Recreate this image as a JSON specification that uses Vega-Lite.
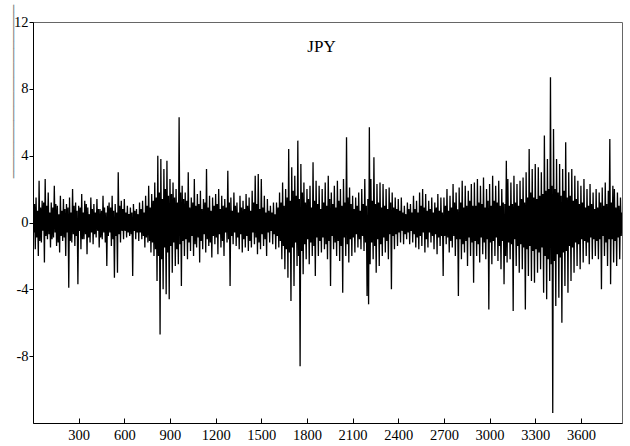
{
  "$schema": "https://vega.github.io/schema/vega-lite/v6.json",
  "width": 589,
  "height": 401,
  "autosize": {"type": "none"},
  "padding": {"left": 33, "top": 22, "right": 8, "bottom": 23},
  "background": "white",
  "config": {
    "view": {"stroke": "#666", "strokeWidth": 1},
    "font": "Liberation Serif",
    "axis": {"labelFont": "Liberation Serif", "titleFont": "Liberation Serif"}
  },
  "title": {"text": "JPY", "orient": "top", "offset": -52, "dx": -6, "fontSize": 17, "font": "Liberation Serif", "fontWeight": "normal", "color": "#000"},
  "data": {"values": [
{"t":0,"v":0.8},{"t":5,"v":-0.6},{"t":10,"v":1.1},{"t":15,"v":-1.6},{"t":20,"v":1.5},{"t":25,"v":-0.9},{"t":30,"v":0.7},{"t":35,"v":-2.0},{"t":40,"v":2.5},{"t":45,"v":-1.1},{"t":50,"v":0.9},{"t":55,"v":-1.2},{"t":60,"v":1.3},{"t":65,"v":-0.5},{"t":70,"v":1.2},{"t":75,"v":-2.4},{"t":80,"v":2.6},{"t":85,"v":-0.8},{"t":90,"v":1.0},{"t":95,"v":-1.0},
{"t":100,"v":1.8},{"t":105,"v":-0.7},{"t":110,"v":0.6},{"t":115,"v":-1.5},{"t":120,"v":1.2},{"t":125,"v":-1.0},{"t":130,"v":0.9},{"t":135,"v":-0.9},{"t":140,"v":2.2},{"t":145,"v":-0.6},{"t":150,"v":1.1},{"t":155,"v":-1.4},{"t":160,"v":1.0},{"t":165,"v":-1.2},{"t":170,"v":0.5},{"t":175,"v":-1.8},{"t":180,"v":1.6},{"t":185,"v":-0.8},{"t":190,"v":0.7},{"t":195,"v":-1.1},
{"t":200,"v":1.4},{"t":205,"v":-0.9},{"t":210,"v":0.8},{"t":215,"v":-2.0},{"t":220,"v":1.1},{"t":225,"v":-0.6},{"t":230,"v":0.9},{"t":235,"v":-3.9},{"t":240,"v":1.5},{"t":245,"v":-1.1},{"t":250,"v":0.6},{"t":255,"v":-1.2},{"t":260,"v":2.0},{"t":265,"v":-0.7},{"t":270,"v":1.0},{"t":275,"v":-1.4},{"t":280,"v":1.2},{"t":285,"v":-0.8},{"t":290,"v":0.7},{"t":295,"v":-3.7},
{"t":300,"v":1.0},{"t":305,"v":-0.5},{"t":310,"v":0.9},{"t":315,"v":-1.6},{"t":320,"v":1.7},{"t":325,"v":-1.0},{"t":330,"v":0.6},{"t":335,"v":-1.0},{"t":340,"v":1.3},{"t":345,"v":-0.7},{"t":350,"v":1.1},{"t":355,"v":-1.9},{"t":360,"v":0.9},{"t":365,"v":-0.9},{"t":370,"v":0.5},{"t":375,"v":-1.2},{"t":380,"v":1.5},{"t":385,"v":-0.6},{"t":390,"v":0.8},{"t":395,"v":-1.3},
{"t":400,"v":1.1},{"t":405,"v":-0.7},{"t":410,"v":0.6},{"t":415,"v":-0.9},{"t":420,"v":1.4},{"t":425,"v":-0.5},{"t":430,"v":0.8},{"t":435,"v":-1.5},{"t":440,"v":0.8},{"t":445,"v":-0.9},{"t":450,"v":0.7},{"t":455,"v":-1.0},{"t":460,"v":1.6},{"t":465,"v":-0.6},{"t":470,"v":0.9},{"t":475,"v":-1.2},{"t":480,"v":0.6},{"t":485,"v":-2.6},{"t":490,"v":1.0},{"t":495,"v":-0.8},
{"t":500,"v":1.2},{"t":505,"v":-0.6},{"t":510,"v":0.9},{"t":515,"v":-1.4},{"t":520,"v":1.6},{"t":525,"v":-1.0},{"t":530,"v":0.7},{"t":535,"v":-3.3},{"t":540,"v":1.1},{"t":545,"v":-0.8},{"t":550,"v":0.6},{"t":555,"v":-3.0},{"t":560,"v":3.0},{"t":565,"v":-0.7},{"t":570,"v":1.0},{"t":575,"v":-1.2},{"t":580,"v":1.3},{"t":585,"v":-0.5},{"t":590,"v":0.8},{"t":595,"v":-1.0},
{"t":600,"v":1.4},{"t":605,"v":-0.5},{"t":610,"v":0.6},{"t":615,"v":-0.9},{"t":620,"v":1.0},{"t":625,"v":-0.6},{"t":630,"v":0.5},{"t":635,"v":-0.8},{"t":640,"v":0.9},{"t":645,"v":-0.7},{"t":650,"v":0.6},{"t":655,"v":-3.2},{"t":660,"v":1.1},{"t":665,"v":-0.5},{"t":670,"v":0.7},{"t":675,"v":-1.0},{"t":680,"v":0.8},{"t":685,"v":-0.6},{"t":690,"v":0.5},{"t":695,"v":-1.1},
{"t":700,"v":1.2},{"t":705,"v":-0.6},{"t":710,"v":0.8},{"t":715,"v":-1.0},{"t":720,"v":1.3},{"t":725,"v":-0.8},{"t":730,"v":0.6},{"t":735,"v":-1.5},{"t":740,"v":1.6},{"t":745,"v":-0.9},{"t":750,"v":1.0},{"t":755,"v":-1.2},{"t":760,"v":2.2},{"t":765,"v":-1.1},{"t":770,"v":0.9},{"t":775,"v":-1.8},{"t":780,"v":1.7},{"t":785,"v":-1.2},{"t":790,"v":1.3},{"t":795,"v":-2.0},
{"t":800,"v":2.4},{"t":805,"v":-1.6},{"t":810,"v":1.5},{"t":815,"v":-3.5},{"t":820,"v":4.0},{"t":825,"v":-2.0},{"t":830,"v":1.8},{"t":835,"v":-6.7},{"t":840,"v":3.8},{"t":845,"v":-2.2},{"t":850,"v":1.4},{"t":855,"v":-4.0},{"t":860,"v":3.2},{"t":865,"v":-1.5},{"t":870,"v":2.0},{"t":875,"v":-4.3},{"t":880,"v":3.7},{"t":885,"v":-1.8},{"t":890,"v":1.6},{"t":895,"v":-4.6},
{"t":900,"v":2.6},{"t":905,"v":-1.4},{"t":910,"v":1.7},{"t":915,"v":-3.0},{"t":920,"v":2.4},{"t":925,"v":-1.2},{"t":930,"v":1.5},{"t":935,"v":-2.6},{"t":940,"v":2.0},{"t":945,"v":-1.6},{"t":950,"v":1.2},{"t":955,"v":-2.5},{"t":960,"v":6.3},{"t":965,"v":-1.3},{"t":970,"v":1.8},{"t":975,"v":-3.8},{"t":980,"v":2.2},{"t":985,"v":-1.1},{"t":990,"v":1.4},{"t":995,"v":-2.0},
{"t":1000,"v":1.8},{"t":1005,"v":-1.0},{"t":1010,"v":1.3},{"t":1015,"v":-2.2},{"t":1020,"v":3.0},{"t":1025,"v":-1.2},{"t":1030,"v":0.9},{"t":1035,"v":-1.7},{"t":1040,"v":1.5},{"t":1045,"v":-0.8},{"t":1050,"v":1.2},{"t":1055,"v":-2.0},{"t":1060,"v":2.6},{"t":1065,"v":-1.3},{"t":1070,"v":1.0},{"t":1075,"v":-1.5},{"t":1080,"v":1.7},{"t":1085,"v":-0.9},{"t":1090,"v":1.1},{"t":1095,"v":-2.4},
{"t":1100,"v":1.9},{"t":1105,"v":-1.1},{"t":1110,"v":0.8},{"t":1115,"v":-1.6},{"t":1120,"v":1.4},{"t":1125,"v":-0.7},{"t":1130,"v":1.2},{"t":1135,"v":-1.8},{"t":1140,"v":3.2},{"t":1145,"v":-1.0},{"t":1150,"v":0.9},{"t":1155,"v":-1.4},{"t":1160,"v":1.6},{"t":1165,"v":-1.2},{"t":1170,"v":0.7},{"t":1175,"v":-2.1},{"t":1180,"v":1.5},{"t":1185,"v":-0.8},{"t":1190,"v":1.0},{"t":1195,"v":-1.3},
{"t":1200,"v":1.7},{"t":1205,"v":-0.9},{"t":1210,"v":1.1},{"t":1215,"v":-1.9},{"t":1220,"v":2.0},{"t":1225,"v":-0.7},{"t":1230,"v":0.8},{"t":1235,"v":-1.5},{"t":1240,"v":1.6},{"t":1245,"v":-1.1},{"t":1250,"v":1.0},{"t":1255,"v":-2.0},{"t":1260,"v":1.4},{"t":1265,"v":-0.6},{"t":1270,"v":0.9},{"t":1275,"v":-1.2},{"t":1280,"v":3.1},{"t":1285,"v":-1.0},{"t":1290,"v":1.2},{"t":1295,"v":-3.8},
{"t":1300,"v":1.5},{"t":1305,"v":-0.8},{"t":1310,"v":0.7},{"t":1315,"v":-1.3},{"t":1320,"v":1.8},{"t":1325,"v":-0.6},{"t":1330,"v":1.0},{"t":1335,"v":-1.4},{"t":1340,"v":1.2},{"t":1345,"v":-0.9},{"t":1350,"v":0.6},{"t":1355,"v":-1.6},{"t":1360,"v":1.6},{"t":1365,"v":-0.7},{"t":1370,"v":0.9},{"t":1375,"v":-1.8},{"t":1380,"v":1.3},{"t":1385,"v":-1.0},{"t":1390,"v":0.8},{"t":1395,"v":-1.5},
{"t":1400,"v":1.7},{"t":1405,"v":-0.8},{"t":1410,"v":1.0},{"t":1415,"v":-1.7},{"t":1420,"v":1.5},{"t":1425,"v":-1.1},{"t":1430,"v":0.7},{"t":1435,"v":-1.5},{"t":1440,"v":1.9},{"t":1445,"v":-0.6},{"t":1450,"v":1.2},{"t":1455,"v":-1.3},{"t":1460,"v":2.8},{"t":1465,"v":-0.9},{"t":1470,"v":1.1},{"t":1475,"v":-1.9},{"t":1480,"v":2.9},{"t":1485,"v":-1.2},{"t":1490,"v":0.8},{"t":1495,"v":-1.6},
{"t":1500,"v":2.6},{"t":1505,"v":-0.7},{"t":1510,"v":0.9},{"t":1515,"v":-1.4},{"t":1520,"v":1.6},{"t":1525,"v":-1.0},{"t":1530,"v":0.6},{"t":1535,"v":-2.0},{"t":1540,"v":1.4},{"t":1545,"v":-0.6},{"t":1550,"v":0.7},{"t":1555,"v":-1.2},{"t":1560,"v":1.0},{"t":1565,"v":-0.5},{"t":1570,"v":0.6},{"t":1575,"v":-1.3},{"t":1580,"v":1.2},{"t":1585,"v":-0.7},{"t":1590,"v":0.5},{"t":1595,"v":-1.6},
{"t":1600,"v":1.2},{"t":1605,"v":-0.8},{"t":1610,"v":0.9},{"t":1615,"v":-1.5},{"t":1620,"v":1.8},{"t":1625,"v":-1.1},{"t":1630,"v":1.2},{"t":1635,"v":-2.2},{"t":1640,"v":2.4},{"t":1645,"v":-1.4},{"t":1650,"v":1.0},{"t":1655,"v":-2.8},{"t":1660,"v":2.0},{"t":1665,"v":-1.6},{"t":1670,"v":1.5},{"t":1675,"v":-3.3},{"t":1680,"v":4.4},{"t":1685,"v":-1.8},{"t":1690,"v":1.3},{"t":1695,"v":-4.7},
{"t":1700,"v":3.3},{"t":1705,"v":-1.5},{"t":1710,"v":1.9},{"t":1715,"v":-3.8},{"t":1720,"v":2.8},{"t":1725,"v":-1.2},{"t":1730,"v":1.6},{"t":1735,"v":-2.6},{"t":1740,"v":4.9},{"t":1745,"v":-2.0},{"t":1750,"v":1.4},{"t":1755,"v":-8.6},{"t":1760,"v":3.5},{"t":1765,"v":-1.7},{"t":1770,"v":1.8},{"t":1775,"v":-3.1},{"t":1780,"v":2.4},{"t":1785,"v":-1.3},{"t":1790,"v":1.2},{"t":1795,"v":-2.2},
{"t":1800,"v":2.0},{"t":1805,"v":-1.0},{"t":1810,"v":1.4},{"t":1815,"v":-2.5},{"t":1820,"v":2.2},{"t":1825,"v":-1.2},{"t":1830,"v":0.9},{"t":1835,"v":-2.0},{"t":1840,"v":3.6},{"t":1845,"v":-1.4},{"t":1850,"v":1.3},{"t":1855,"v":-3.2},{"t":1860,"v":2.5},{"t":1865,"v":-0.9},{"t":1870,"v":1.1},{"t":1875,"v":-2.0},{"t":1880,"v":2.2},{"t":1885,"v":-1.1},{"t":1890,"v":0.8},{"t":1895,"v":-1.8},
{"t":1900,"v":2.0},{"t":1905,"v":-0.9},{"t":1910,"v":1.2},{"t":1915,"v":-1.6},{"t":1920,"v":2.4},{"t":1925,"v":-1.3},{"t":1930,"v":1.0},{"t":1935,"v":-2.2},{"t":1940,"v":2.8},{"t":1945,"v":-1.1},{"t":1950,"v":1.4},{"t":1955,"v":-3.8},{"t":1960,"v":1.8},{"t":1965,"v":-0.8},{"t":1970,"v":1.1},{"t":1975,"v":-1.6},{"t":1980,"v":2.2},{"t":1985,"v":-1.2},{"t":1990,"v":0.9},{"t":1995,"v":-2.0},
{"t":2000,"v":2.5},{"t":2005,"v":-1.1},{"t":2010,"v":1.3},{"t":2015,"v":-2.3},{"t":2020,"v":2.0},{"t":2025,"v":-1.4},{"t":2030,"v":1.0},{"t":2035,"v":-4.2},{"t":2040,"v":2.6},{"t":2045,"v":-0.9},{"t":2050,"v":1.2},{"t":2055,"v":-2.0},{"t":2060,"v":5.1},{"t":2065,"v":-1.3},{"t":2070,"v":1.5},{"t":2075,"v":-2.4},{"t":2080,"v":2.1},{"t":2085,"v":-1.0},{"t":2090,"v":1.1},{"t":2095,"v":-2.0},
{"t":2100,"v":1.6},{"t":2105,"v":-0.9},{"t":2110,"v":0.8},{"t":2115,"v":-1.8},{"t":2120,"v":1.5},{"t":2125,"v":-0.7},{"t":2130,"v":1.0},{"t":2135,"v":-1.5},{"t":2140,"v":1.8},{"t":2145,"v":-1.0},{"t":2150,"v":0.7},{"t":2155,"v":-1.6},{"t":2160,"v":2.0},{"t":2165,"v":-0.8},{"t":2170,"v":1.1},{"t":2175,"v":-1.7},{"t":2180,"v":2.6},{"t":2185,"v":-1.2},{"t":2190,"v":1.0},{"t":2195,"v":-4.4},
{"t":2200,"v":1.4},{"t":2205,"v":-4.9},{"t":2210,"v":5.7},{"t":2215,"v":-2.5},{"t":2220,"v":2.6},{"t":2225,"v":-1.2},{"t":2230,"v":1.3},{"t":2235,"v":-2.2},{"t":2240,"v":3.9},{"t":2245,"v":-1.4},{"t":2250,"v":1.1},{"t":2255,"v":-3.0},{"t":2260,"v":2.3},{"t":2265,"v":-1.0},{"t":2270,"v":1.2},{"t":2275,"v":-2.6},{"t":2280,"v":2.4},{"t":2285,"v":-1.3},{"t":2290,"v":0.9},{"t":2295,"v":-2.0},
{"t":2300,"v":2.3},{"t":2305,"v":-0.9},{"t":2310,"v":1.0},{"t":2315,"v":-1.8},{"t":2320,"v":2.0},{"t":2325,"v":-1.1},{"t":2330,"v":0.8},{"t":2335,"v":-2.2},{"t":2340,"v":2.1},{"t":2345,"v":-0.7},{"t":2350,"v":1.2},{"t":2355,"v":-4.0},{"t":2360,"v":1.8},{"t":2365,"v":-0.8},{"t":2370,"v":0.9},{"t":2375,"v":-1.6},{"t":2380,"v":1.5},{"t":2385,"v":-0.7},{"t":2390,"v":0.8},{"t":2395,"v":-1.4},
{"t":2400,"v":1.4},{"t":2405,"v":-0.6},{"t":2410,"v":0.7},{"t":2415,"v":-1.2},{"t":2420,"v":1.5},{"t":2425,"v":-0.5},{"t":2430,"v":0.6},{"t":2435,"v":-1.3},{"t":2440,"v":1.0},{"t":2445,"v":-0.7},{"t":2450,"v":0.5},{"t":2455,"v":-1.0},{"t":2460,"v":1.2},{"t":2465,"v":-0.6},{"t":2470,"v":0.8},{"t":2475,"v":-1.3},{"t":2480,"v":1.1},{"t":2485,"v":-0.5},{"t":2490,"v":0.6},{"t":2495,"v":-1.2},
{"t":2500,"v":1.6},{"t":2505,"v":-0.7},{"t":2510,"v":0.8},{"t":2515,"v":-1.5},{"t":2520,"v":1.3},{"t":2525,"v":-0.9},{"t":2530,"v":0.6},{"t":2535,"v":-1.6},{"t":2540,"v":1.8},{"t":2545,"v":-0.8},{"t":2550,"v":1.0},{"t":2555,"v":-1.4},{"t":2560,"v":2.0},{"t":2565,"v":-0.6},{"t":2570,"v":0.9},{"t":2575,"v":-1.8},{"t":2580,"v":1.7},{"t":2585,"v":-1.0},{"t":2590,"v":0.7},{"t":2595,"v":-1.5},
{"t":2600,"v":1.3},{"t":2605,"v":-0.6},{"t":2610,"v":0.8},{"t":2615,"v":-1.2},{"t":2620,"v":1.5},{"t":2625,"v":-0.8},{"t":2630,"v":0.6},{"t":2635,"v":-1.6},{"t":2640,"v":1.2},{"t":2645,"v":-0.7},{"t":2650,"v":0.9},{"t":2655,"v":-1.9},{"t":2660,"v":1.7},{"t":2665,"v":-0.9},{"t":2670,"v":0.7},{"t":2675,"v":-1.4},{"t":2680,"v":1.5},{"t":2685,"v":-0.8},{"t":2690,"v":0.6},{"t":2695,"v":-3.2},
{"t":2700,"v":1.5},{"t":2705,"v":-0.8},{"t":2710,"v":1.0},{"t":2715,"v":-1.3},{"t":2720,"v":2.0},{"t":2725,"v":-0.9},{"t":2730,"v":0.7},{"t":2735,"v":-1.8},{"t":2740,"v":1.6},{"t":2745,"v":-1.1},{"t":2750,"v":0.9},{"t":2755,"v":-1.5},{"t":2760,"v":2.3},{"t":2765,"v":-0.8},{"t":2770,"v":1.2},{"t":2775,"v":-2.0},{"t":2780,"v":1.8},{"t":2785,"v":-1.0},{"t":2790,"v":0.8},{"t":2795,"v":-4.4},
{"t":2800,"v":2.1},{"t":2805,"v":-1.0},{"t":2810,"v":1.2},{"t":2815,"v":-2.2},{"t":2820,"v":2.5},{"t":2825,"v":-1.3},{"t":2830,"v":0.9},{"t":2835,"v":-1.8},{"t":2840,"v":2.2},{"t":2845,"v":-1.1},{"t":2850,"v":1.0},{"t":2855,"v":-2.6},{"t":2860,"v":1.9},{"t":2865,"v":-0.9},{"t":2870,"v":1.3},{"t":2875,"v":-2.0},{"t":2880,"v":2.3},{"t":2885,"v":-1.2},{"t":2890,"v":1.0},{"t":2895,"v":-3.6},
{"t":2900,"v":2.4},{"t":2905,"v":-1.1},{"t":2910,"v":1.0},{"t":2915,"v":-2.0},{"t":2920,"v":2.6},{"t":2925,"v":-1.3},{"t":2930,"v":1.2},{"t":2935,"v":-2.4},{"t":2940,"v":2.2},{"t":2945,"v":-0.9},{"t":2950,"v":1.1},{"t":2955,"v":-1.9},{"t":2960,"v":2.7},{"t":2965,"v":-1.2},{"t":2970,"v":0.9},{"t":2975,"v":-2.2},{"t":2980,"v":2.0},{"t":2985,"v":-1.0},{"t":2990,"v":1.3},{"t":2995,"v":-5.2},
{"t":3000,"v":2.3},{"t":3005,"v":-1.2},{"t":3010,"v":1.0},{"t":3015,"v":-2.5},{"t":3020,"v":2.8},{"t":3025,"v":-1.1},{"t":3030,"v":1.3},{"t":3035,"v":-2.0},{"t":3040,"v":2.2},{"t":3045,"v":-0.9},{"t":3050,"v":1.2},{"t":3055,"v":-2.3},{"t":3060,"v":2.5},{"t":3065,"v":-1.4},{"t":3070,"v":1.0},{"t":3075,"v":-2.8},{"t":3080,"v":2.0},{"t":3085,"v":-1.1},{"t":3090,"v":1.2},{"t":3095,"v":-3.7},
{"t":3100,"v":1.1},{"t":3105,"v":-2.0},{"t":3110,"v":3.7},{"t":3115,"v":-2.4},{"t":3120,"v":2.6},{"t":3125,"v":-1.2},{"t":3130,"v":1.0},{"t":3135,"v":-2.2},{"t":3140,"v":2.4},{"t":3145,"v":-1.3},{"t":3150,"v":1.1},{"t":3155,"v":-5.3},{"t":3160,"v":2.8},{"t":3165,"v":-1.0},{"t":3170,"v":1.2},{"t":3175,"v":-2.6},{"t":3180,"v":2.3},{"t":3185,"v":-1.4},{"t":3190,"v":1.0},{"t":3195,"v":-3.0},
{"t":3200,"v":2.5},{"t":3205,"v":-1.3},{"t":3210,"v":1.4},{"t":3215,"v":-2.8},{"t":3220,"v":2.7},{"t":3225,"v":-1.5},{"t":3230,"v":1.2},{"t":3235,"v":-5.2},{"t":3240,"v":3.0},{"t":3245,"v":-1.6},{"t":3250,"v":1.5},{"t":3255,"v":-3.2},{"t":3260,"v":4.4},{"t":3265,"v":-1.4},{"t":3270,"v":1.8},{"t":3275,"v":-3.5},{"t":3280,"v":3.2},{"t":3285,"v":-1.7},{"t":3290,"v":1.5},{"t":3295,"v":-3.6},
{"t":3300,"v":3.5},{"t":3305,"v":-1.6},{"t":3310,"v":1.4},{"t":3315,"v":-3.0},{"t":3320,"v":3.3},{"t":3325,"v":-1.8},{"t":3330,"v":1.6},{"t":3335,"v":-2.8},{"t":3340,"v":3.0},{"t":3345,"v":-1.5},{"t":3350,"v":1.7},{"t":3355,"v":-4.2},{"t":3360,"v":5.2},{"t":3365,"v":-2.0},{"t":3370,"v":1.9},{"t":3375,"v":-4.6},{"t":3380,"v":3.8},{"t":3385,"v":-2.2},{"t":3390,"v":2.0},{"t":3395,"v":-3.5},
{"t":3400,"v":8.7},{"t":3405,"v":-2.5},{"t":3410,"v":2.2},{"t":3415,"v":-11.4},{"t":3420,"v":5.6},{"t":3425,"v":-2.3},{"t":3430,"v":2.0},{"t":3435,"v":-5.0},{"t":3440,"v":3.8},{"t":3445,"v":-1.9},{"t":3450,"v":1.8},{"t":3455,"v":-4.5},{"t":3460,"v":3.5},{"t":3465,"v":-2.1},{"t":3470,"v":1.6},{"t":3475,"v":-6.0},{"t":3480,"v":3.2},{"t":3485,"v":-1.8},{"t":3490,"v":1.9},{"t":3495,"v":-3.8},
{"t":3500,"v":4.8},{"t":3505,"v":-1.7},{"t":3510,"v":1.5},{"t":3515,"v":-4.2},{"t":3520,"v":3.0},{"t":3525,"v":-1.4},{"t":3530,"v":1.6},{"t":3535,"v":-3.5},{"t":3540,"v":3.2},{"t":3545,"v":-1.5},{"t":3550,"v":1.3},{"t":3555,"v":-3.0},{"t":3560,"v":2.8},{"t":3565,"v":-1.2},{"t":3570,"v":1.4},{"t":3575,"v":-2.6},{"t":3580,"v":2.5},{"t":3585,"v":-1.3},{"t":3590,"v":1.1},{"t":3595,"v":-2.8},
{"t":3600,"v":2.2},{"t":3605,"v":-1.0},{"t":3610,"v":1.2},{"t":3615,"v":-2.4},{"t":3620,"v":2.6},{"t":3625,"v":-1.1},{"t":3630,"v":0.9},{"t":3635,"v":-2.0},{"t":3640,"v":2.0},{"t":3645,"v":-1.2},{"t":3650,"v":1.0},{"t":3655,"v":-2.5},{"t":3660,"v":2.3},{"t":3665,"v":-0.9},{"t":3670,"v":1.1},{"t":3675,"v":-2.2},{"t":3680,"v":1.8},{"t":3685,"v":-1.0},{"t":3690,"v":0.8},{"t":3695,"v":-2.0},
{"t":3700,"v":2.0},{"t":3705,"v":-1.1},{"t":3710,"v":0.9},{"t":3715,"v":-2.2},{"t":3720,"v":1.8},{"t":3725,"v":-1.0},{"t":3730,"v":1.2},{"t":3735,"v":-4.0},{"t":3740,"v":2.1},{"t":3745,"v":-0.8},{"t":3750,"v":1.0},{"t":3755,"v":-2.0},{"t":3760,"v":2.4},{"t":3765,"v":-1.2},{"t":3770,"v":1.1},{"t":3775,"v":-2.6},{"t":3780,"v":1.9},{"t":3785,"v":-1.0},{"t":3790,"v":5.0},{"t":3795,"v":-3.7},
{"t":3800,"v":1.2},{"t":3805,"v":-1.0},{"t":3810,"v":2.2},{"t":3815,"v":-2.4},{"t":3820,"v":2.0},{"t":3825,"v":-1.1},{"t":3830,"v":0.9},{"t":3835,"v":-2.6},{"t":3840,"v":1.8},{"t":3845,"v":-0.9},{"t":3850,"v":1.0},{"t":3855,"v":-2.2},{"t":3860,"v":1.5},{"t":3865,"v":-0.8},{"t":3870,"v":0.6}
  ]},
  "mark": {"type": "line", "color": "#000", "strokeWidth": 1.3, "clip": true},
  "encoding": {
    "x": {
      "field": "t", "type": "quantitative",
      "scale": {"domain": [0, 3870], "nice": false, "zero": false},
      "axis": {
        "title": null, "values": [300,600,900,1200,1500,1800,2100,2400,2700,3000,3300,3600],
        "format": "d",
        "grid": false, "domainColor": "#000", "tickColor": "#000", "tickSize": -5,
        "labelPadding": 10, "labelFont": "Liberation Serif", "labelFontSize": 14.5, "labelColor": "#000"
      }
    },
    "y": {
      "field": "v", "type": "quantitative",
      "scale": {"domain": [-12, 12], "nice": false, "zero": false},
      "axis": {
        "values": [-8,-4,0,4,8,12], "grid": false,
        "domainColor": "#000", "tickColor": "#000", "tickSize": 4, "labelPadding": 1,
        "labelExpr": "datum.value < 0 ? '-' + abs(datum.value) : datum.label",
        "labelFont": "Liberation Serif", "labelFontSize": 14.5, "labelColor": "#000",
        "title": "────────────────────────",
        "titleFont": "DejaVu Sans Mono", "titleFontSize": 12, "titleColor": "#808080", "titleFontWeight": "normal",
        "titleAngle": 270, "titleX": -20, "titleY": 69, "titleBaseline": "middle", "titleAlign": "center"
      }
    }
  }
}
